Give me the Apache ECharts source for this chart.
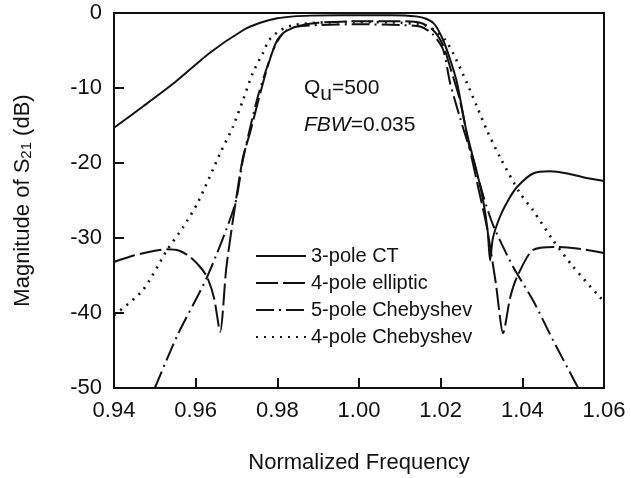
<!DOCTYPE html>
<html><head><meta charset="utf-8">
<script src="https://cdn.jsdelivr.net/npm/echarts@6/dist/echarts.min.js"></script>
<style>html,body{margin:0;padding:0;background:#fff}#c{width:631px;height:478px}</style>
</head><body><div id="c"></div>
<script>
// ---- data ----
const xTicks = [0.94, 0.96, 0.98, 1.00, 1.02, 1.04, 1.06];
const yTicks = [0, -10, -20, -30, -40, -50];
const seriesNames = ['3-pole CT', '4-pole elliptic', '5-pole Chebyshev', '4-pole Chebyshev'];

const ctFreq = [0.94, 0.947, 0.955, 0.9635, 0.9716, 0.9758, 0.980, 0.984, 0.988, 0.995, 1.000, 1.008, 1.014, 1.0166, 1.0185, 1.0206, 1.0225, 1.024, 1.0264, 1.0289, 1.0304, 1.0315, 1.0321, 1.0328, 1.0345, 1.0365, 1.0387, 1.0426, 1.0468, 1.051, 1.0549, 1.06];
const ctDb   = [-15.3, -12.5, -9.2, -5.3, -2.3, -1.3, -0.7, -0.45, -0.35, -0.3, -0.3, -0.3, -0.45, -0.8, -1.5, -3.6, -6.5, -9.3, -16, -21.3, -25, -29, -33, -30, -27.2, -25, -23.2, -21.4, -21.1, -21.4, -21.9, -22.4];

const ellFreq = [0.94, 0.945, 0.950, 0.953, 0.956, 0.9586, 0.9610, 0.9628, 0.9645, 0.966, 0.9675, 0.9696, 0.9716, 0.9733, 0.9765, 0.979, 0.9814, 0.9848, 0.990, 1.000, 1.010, 1.015, 1.018, 1.0205, 1.0223, 1.0247, 1.0272, 1.0295, 1.0313, 1.0335, 1.0353, 1.037, 1.0387, 1.0426, 1.0485, 1.0534, 1.06];
const ellDb   = [-33.2, -32.3, -31.7, -31.5, -31.7, -32.5, -33.8, -35.2, -38, -42.5, -34, -25.9, -19.2, -16, -9.3, -4.9, -2.7, -1.8, -1.3, -1.1, -1.1, -1.3, -2.2, -4.2, -7.2, -11.6, -18.3, -24, -28.5, -36, -42.7, -38, -35.2, -31.6, -31.2, -31.4, -32];

const ch5Freq = [0.950, 0.9555, 0.9628, 0.9696, 0.9716, 0.975, 0.9775, 0.980, 0.9823, 0.985, 0.990, 1.000, 1.010, 1.015, 1.018, 1.0206, 1.0223, 1.0247, 1.0264, 1.028, 1.0305, 1.033, 1.0377, 1.0426, 1.0475, 1.0529, 1.0537];
const ch5Db   = [-50, -43, -35.2, -25.6, -19.5, -11.6, -7.2, -3.6, -2.3, -1.8, -1.6, -1.5, -1.6, -1.8, -2.8, -4.9, -9.3, -13.9, -16.9, -19.6, -24.5, -28.5, -33.8, -38.3, -43.6, -49.2, -50];

const ch4Freq = [0.94, 0.947, 0.953, 0.957, 0.9606, 0.966, 0.9691, 0.9716, 0.974, 0.9765, 0.978, 0.9807, 0.984, 0.990, 1.000, 1.010, 1.016, 1.019, 1.021, 1.023, 1.0264, 1.0289, 1.0313, 1.0345, 1.0394, 1.0426, 1.0475, 1.0524, 1.059, 1.06];
const ch4Db   = [-40.3, -37, -31.6, -28.5, -25.2, -18.7, -15.2, -11.6, -8, -5.3, -3.6, -2.3, -1.6, -1.3, -1.2, -1.3, -1.6, -2.5, -3.5, -5.3, -9.3, -12.5, -15.6, -19.2, -24, -26.3, -30.3, -33.8, -37.9, -38.4];

const annotQ = 'Q';
const annotQsub = 'u';
const annotQval = '=500';
const annotFBW = 'FBW';
const annotFBWval = '=0.035';

// ---- chart ----
const FONT = '"Liberation Sans", Arial, Helvetica, sans-serif';
const INK = '#111';
const zip = (xs, ys) => xs.map((x, i) => [x, ys[i]]);
const dashes = ['solid', [22, 5], [18, 5, 2, 5], [2, 6]];
const widths = [2, 2, 2, 2.6];
const sets = [[ctFreq, ctDb], [ellFreq, ellDb], [ch5Freq, ch5Db], [ch4Freq, ch4Db]];

const chart = echarts.init(document.getElementById('c'), null, {renderer: 'canvas'});
chart.setOption({
  animation: false,
  backgroundColor: '#fff',
  grid: {left: 114, right: 27, top: 13, bottom: 90, containLabel: false, outerBoundsMode: 'none',
    show: true, borderColor: INK, borderWidth: 2, backgroundColor: 'transparent'},
  xAxis: {
    type: 'value', min: xTicks[0], max: xTicks[xTicks.length - 1], interval: 0.02,
    name: 'Normalized Frequency', nameLocation: 'middle', nameGap: 64,
    nameTextStyle: {fontFamily: FONT, fontSize: 22, color: INK},
    axisLine: {onZero: false, lineStyle: {color: INK, width: 2}},
    axisTick: {inside: true, length: 10, lineStyle: {color: INK, width: 2}},
    axisLabel: {fontFamily: FONT, fontSize: 22, color: INK, margin: 12, formatter: v => v.toFixed(2)},
    splitLine: {show: false}
  },
  yAxis: {
    type: 'value', min: yTicks[yTicks.length - 1], max: yTicks[0], interval: 10,
    name: '{n|Magnitude of S}{s|21}{n| (dB)}', nameLocation: 'middle', nameGap: 80,
    nameTextStyle: {fontFamily: FONT, fontSize: 22, color: INK,
      rich: {n: {fontFamily: FONT, fontSize: 22, color: INK}, s: {fontFamily: FONT, fontSize: 15, color: INK, verticalAlign: 'bottom', padding: [8, 0, 0, 0]}}},
    axisLine: {onZero: false, lineStyle: {color: INK, width: 2}},
    axisTick: {inside: true, length: 10, lineStyle: {color: INK, width: 2}},
    axisLabel: {fontFamily: FONT, fontSize: 22, color: INK, margin: 12},
    splitLine: {show: false}
  },
  legend: {
    orient: 'vertical', left: 250, top: 241, itemWidth: 50, itemHeight: 14, itemGap: 7,
    itemStyle: {opacity: 0},
    textStyle: {fontFamily: FONT, fontSize: 20, color: INK, lineHeight: 20},
    data: seriesNames
  },
  graphic: [
    {type: 'text', left: 304, top: 78, style: {
      text: '{q|' + annotQ + '}{s|' + annotQsub + '}{q|' + annotQval + '}',
      rich: {q: {fontFamily: FONT, fontSize: 21, fill: INK}, s: {fontFamily: FONT, fontSize: 21, fill: INK, padding: [12, 0, 0, 0]}}}},
    {type: 'text', left: 304, top: 115, style: {
      text: '{i|' + annotFBW + '}{q|' + annotFBWval + '}',
      rich: {i: {fontFamily: FONT, fontSize: 21, fontStyle: 'italic', fill: INK}, q: {fontFamily: FONT, fontSize: 21, fill: INK}}}}
  ],
  series: seriesNames.map((nm, i) => ({
    name: nm, type: 'line', symbol: 'none', smooth: 0.25, clip: true,
    data: zip(sets[i][0], sets[i][1]),
    lineStyle: {color: INK, width: widths[i], type: dashes[i]},
    itemStyle: {color: INK}
  }))
});
</script></body></html>
